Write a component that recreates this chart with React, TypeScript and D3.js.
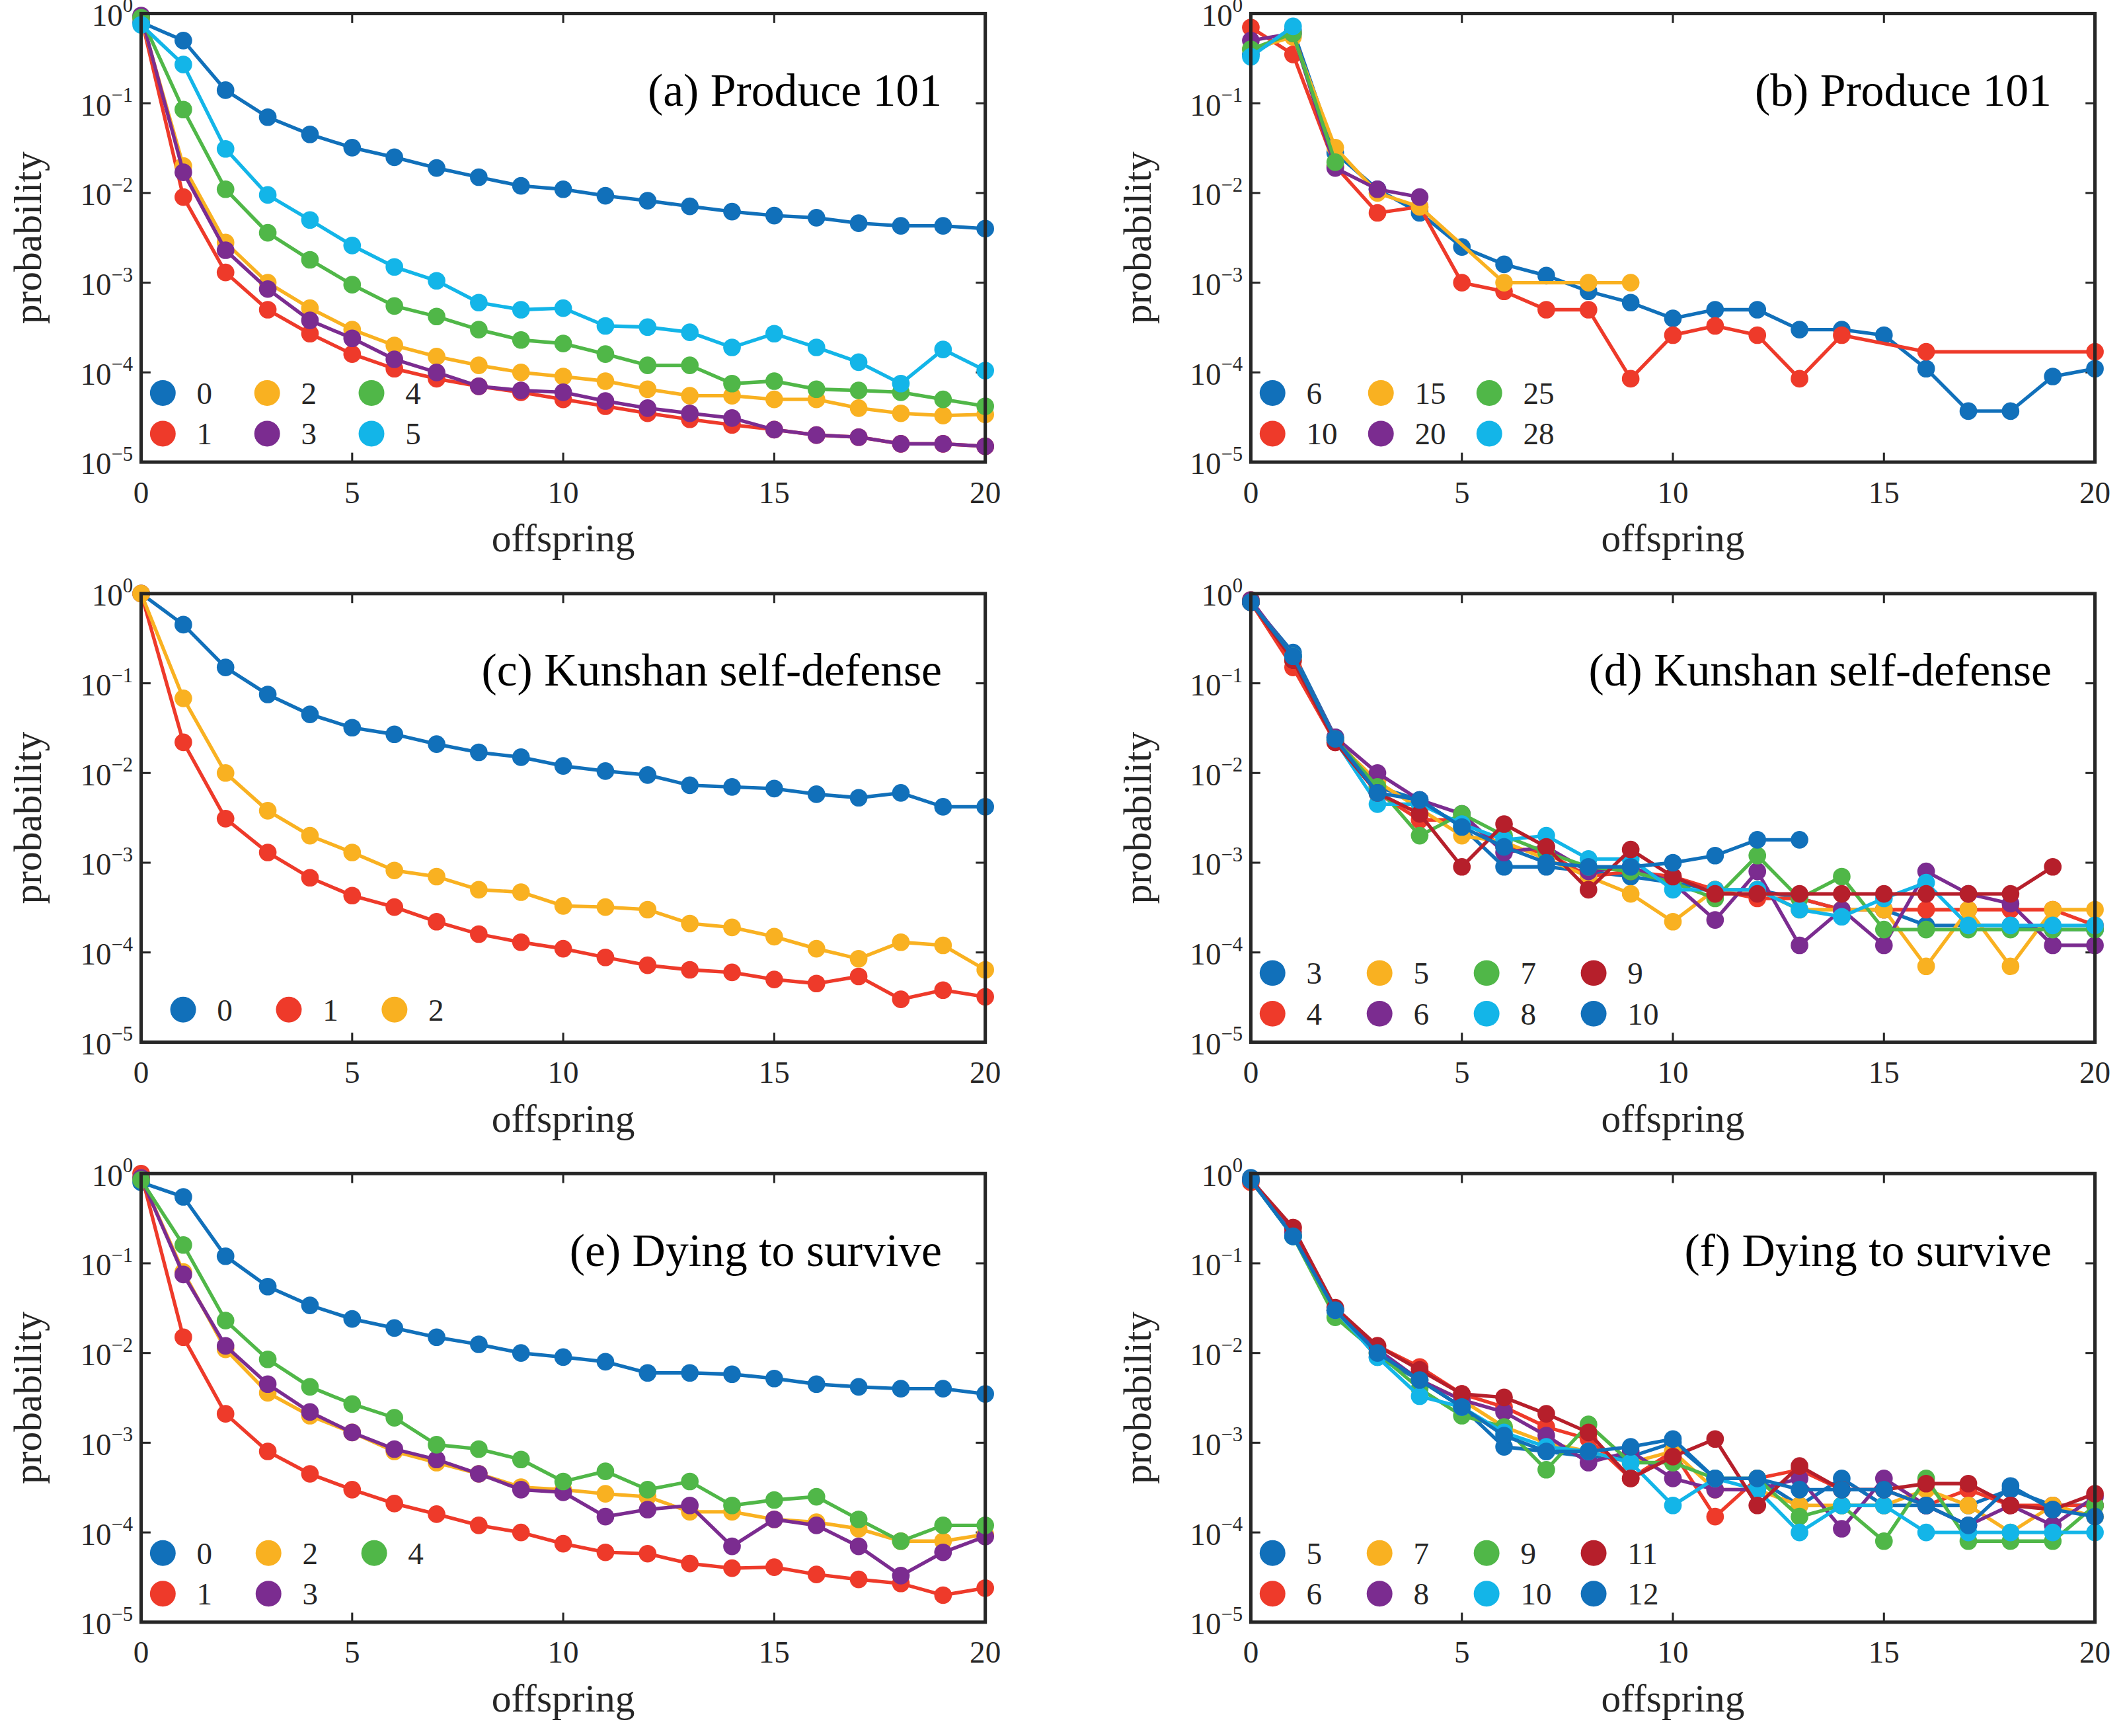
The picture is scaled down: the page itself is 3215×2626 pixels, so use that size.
import * as d3 from "d3";
import React from "react";

// colours (MATLAB-ish palette as seen in the figure)
const C = {
  blue: "#1170BA",
  red: "#EE3A2A",
  orange: "#F9B121",
  purple: "#7B2C90",
  green: "#50B748",
  cyan: "#13B5E8",
  dark: "#B61F2B",
};

const xs = d3.range(0, 21);

// (a) Produce 101, in-degree classes 0..5
const aS0 = [0.8, 0.5, 0.14, 0.07, 0.045, 0.032, 0.025, 0.019, 0.015, 0.012, 0.011, 0.0093, 0.0082, 0.0071, 0.0062, 0.0056, 0.0053, 0.0046, 0.0043, 0.0043, 0.004];
const aS1 = [0.9, 0.009, 0.0013, 0.0005, 0.00027, 0.00016, 0.00011, 0.000085, 0.00007, 0.00006, 0.00005, 0.000042, 0.000035, 0.00003, 0.000026, 0.000023, 0.00002, 0.000019, 0.000016, 0.000016, 0.000015];
const aS2 = [0.9, 0.02, 0.0028, 0.001, 0.00052, 0.0003, 0.0002, 0.00015, 0.00012, 0.0001, 0.00009, 0.00008, 0.000065, 0.000055, 0.000055, 0.00005, 0.00005, 0.00004, 0.000035, 0.000033, 0.000034];
const aS3 = [0.95, 0.017, 0.0023, 0.00085, 0.00038, 0.00024, 0.00014, 0.0001, 0.00007, 0.000063, 0.00006, 0.000048, 0.00004, 0.000035, 0.000031, 0.000023, 0.00002, 0.000019, 0.000016, 0.000016, 0.000015];
const aS4 = [0.9, 0.085, 0.011, 0.0036, 0.0018, 0.00095, 0.00055, 0.00042, 0.0003, 0.00023, 0.00021, 0.00016, 0.00012, 0.00012, 0.000075, 0.00008, 0.000065, 0.000063, 0.00006, 0.00005, 0.000042];
const aS5 = [0.75, 0.27, 0.031, 0.0095, 0.005, 0.0026, 0.0015, 0.00105, 0.0006, 0.0005, 0.00052, 0.00033, 0.00032, 0.00028, 0.00019, 0.00027, 0.00019, 0.00013, 0.000075, 0.00018, 0.000105];

// (b) Produce 101, larger classes (sparse)
const bS6 = [0.35, 0.65, 0.028, 0.011, 0.006, 0.0025, 0.0016, 0.0012, 0.0008, 0.0006, 0.0004, 0.0005, 0.0005, 0.0003, 0.0003, 0.00026, 0.00011, 0.000037, 0.000037, 0.00009, 0.00011];
const bS10x = [0, 1, 2, 3, 4, 5, 6, 7, 8, 9, 10, 11, 12, 13, 14, 16, 20];
const bS10 = [0.7, 0.35, 0.02, 0.006, 0.007, 0.001, 0.0008, 0.0005, 0.0005, 0.000085, 0.00026, 0.00033, 0.00026, 0.000085, 0.00026, 0.00017, 0.00017];
const bS15x = [0, 1, 2, 3, 4, 6, 8, 9];
const bS15 = [0.4, 0.55, 0.032, 0.01, 0.007, 0.001, 0.001, 0.001];
const bS20 = [0.5, 0.6, 0.019, 0.011, 0.009];
const bS25 = [0.4, 0.6, 0.022];
const bS28 = [0.33, 0.72];

// (c) Kunshan self-defense
const cS0 = [1.0, 0.45, 0.15, 0.075, 0.045, 0.032, 0.027, 0.021, 0.017, 0.015, 0.012, 0.0105, 0.0095, 0.0073, 0.007, 0.0067, 0.0058, 0.0053, 0.006, 0.0042, 0.0042];
const cS1 = [1.0, 0.022, 0.0031, 0.0013, 0.00068, 0.00043, 0.00032, 0.00022, 0.00016, 0.00013, 0.00011, 0.000088, 0.000072, 0.000064, 0.00006, 0.00005, 0.000045, 0.000054, 0.00003, 0.000038, 0.000032];
const cS2 = [1.0, 0.068, 0.01, 0.0038, 0.002, 0.0013, 0.00082, 0.0007, 0.0005, 0.00047, 0.00033, 0.00032, 0.0003, 0.00021, 0.00019, 0.00015, 0.00011, 0.000085, 0.00013, 0.00012, 0.000064];

// (d) Kunshan self-defense, classes 3..10
const dS3 = [0.8, 0.22, 0.025, 0.007, 0.005, 0.0025, 0.0009, 0.0009, 0.0008, 0.0007, 0.0006, 0.0005, 0.0005, 0.0004, 0.0003, 0.0003, 0.0002, 0.0002, 0.0002, 0.00018, 0.00018];
const dS4 = [0.8, 0.15, 0.022, 0.006, 0.003, 0.003, 0.0015, 0.0013, 0.0007, 0.0008, 0.0007, 0.0005, 0.0004, 0.0004, 0.0003, 0.0003, 0.0003, 0.0003, 0.0003, 0.0003, 0.0002];
const dS5 = [0.85, 0.18, 0.023, 0.008, 0.004, 0.002, 0.0017, 0.0011, 0.0007, 0.00045, 0.00022, 0.0005, 0.0005, 0.0003, 0.0003, 0.0003, 0.00007, 0.0003, 0.00007, 0.0003, 0.0003];
const dS6 = [0.85, 0.2, 0.025, 0.01, 0.005, 0.0035, 0.0013, 0.0015, 0.0008, 0.0009, 0.0006, 0.00023, 0.0008, 0.00012, 0.0003, 0.00012, 0.0008, 0.00045, 0.00035, 0.00012, 0.00012];
const dS7 = [0.8, 0.2, 0.024, 0.007, 0.002, 0.0035, 0.002, 0.0013, 0.0009, 0.0008, 0.0006, 0.0004, 0.0012, 0.0004, 0.0007, 0.00018, 0.00018, 0.00018, 0.00018, 0.00018, 0.00018];
const dS8 = [0.8, 0.2, 0.023, 0.0045, 0.0045, 0.0027, 0.0018, 0.002, 0.0011, 0.0011, 0.0005, 0.0005, 0.0005, 0.0003, 0.00025, 0.0004, 0.0006, 0.0002, 0.0002, 0.0002, 0.0002];
const dS9 = [0.8, 0.18, 0.022, 0.006, 0.0035, 0.0009, 0.0027, 0.0015, 0.0005, 0.0014, 0.0007, 0.00045, 0.00045, 0.00045, 0.00045, 0.00045, 0.00045, 0.00045, 0.00045, 0.0009];
const dS10 = [0.8, 0.2, 0.024, 0.006, 0.005, 0.0025, 0.0015, 0.001, 0.0009, 0.0009, 0.001, 0.0012, 0.0018, 0.0018];

// (e) Dying to survive
const eS0 = [0.8, 0.55, 0.12, 0.055, 0.034, 0.024, 0.019, 0.015, 0.0125, 0.01, 0.009, 0.008, 0.006, 0.006, 0.0058, 0.0052, 0.0045, 0.0042, 0.004, 0.004, 0.0035];
const eS1 = [1.0, 0.015, 0.0021, 0.0008, 0.00045, 0.0003, 0.00021, 0.00016, 0.00012, 0.0001, 0.000075, 0.00006, 0.000058, 0.000045, 0.00004, 0.000041, 0.000034, 0.00003, 0.000027, 0.00002, 0.000024];
const eS2 = [0.9, 0.08, 0.011, 0.0036, 0.002, 0.0013, 0.0008, 0.0006, 0.00045, 0.00032, 0.0003, 0.00027, 0.00025, 0.00017, 0.00017, 0.00014, 0.00013, 0.00011, 0.00008, 0.00008, 0.000095];
const eS3 = [0.9, 0.075, 0.012, 0.0045, 0.0022, 0.0013, 0.00085, 0.00065, 0.00045, 0.0003, 0.00028, 0.00015, 0.00018, 0.0002, 0.00007, 0.00014, 0.00012, 0.00007, 0.000033, 0.00006, 0.00009];
const eS4 = [0.85, 0.16, 0.023, 0.0085, 0.0042, 0.0027, 0.0019, 0.00095, 0.00085, 0.00065, 0.00037, 0.00048, 0.0003, 0.00037, 0.0002, 0.00023, 0.00025, 0.00014, 0.00008, 0.00012, 0.00012];

// (f) Dying to survive, classes 5..12
const fS5 = [0.9, 0.2, 0.03, 0.009, 0.005, 0.0025, 0.0009, 0.0008, 0.0007, 0.0007, 0.001, 0.0004, 0.0004, 0.0002, 0.0004, 0.0002, 0.0002, 0.0002, 0.0003, 0.0002, 0.0002];
const fS6 = [0.8, 0.25, 0.03, 0.012, 0.007, 0.0035, 0.0025, 0.0015, 0.0011, 0.0004, 0.0008, 0.00015, 0.0004, 0.0005, 0.0003, 0.0003, 0.0002, 0.0003, 0.0002, 0.0002, 0.0002];
const fS7 = [0.85, 0.22, 0.03, 0.01, 0.005, 0.003, 0.0015, 0.001, 0.0008, 0.0006, 0.0008, 0.0003, 0.0003, 0.0002, 0.0002, 0.0002, 0.0003, 0.0002, 0.0001, 0.0002, 0.00015];
const fS8 = [0.85, 0.22, 0.03, 0.011, 0.005, 0.003, 0.0022, 0.0012, 0.0006, 0.0008, 0.0004, 0.0003, 0.0003, 0.0004, 0.00011, 0.0004, 0.0002, 0.00012, 0.0002, 0.00012, 0.00025];
const fS9 = [0.85, 0.2, 0.025, 0.01, 0.004, 0.002, 0.0015, 0.0005, 0.0016, 0.0006, 0.0006, 0.0004, 0.0004, 0.00015, 0.0002, 0.00008, 0.0004, 0.00008, 0.00008, 0.00008, 0.0002];
const fS10 = [0.85, 0.2, 0.03, 0.009, 0.0033, 0.0025, 0.0013, 0.0009, 0.0008, 0.0006, 0.0002, 0.0004, 0.0003, 0.0001, 0.0002, 0.0002, 0.0001, 0.0001, 0.0001, 0.0001, 0.0001];
const fS11 = [0.85, 0.25, 0.032, 0.012, 0.0065, 0.0035, 0.0032, 0.0021, 0.0013, 0.0004, 0.0007, 0.0011, 0.0002, 0.00055, 0.0003, 0.0003, 0.00035, 0.00035, 0.0002, 0.00018, 0.00027];
const fS12 = [0.85, 0.2, 0.03, 0.01, 0.005, 0.0025, 0.0012, 0.0008, 0.0008, 0.0009, 0.0011, 0.0004, 0.0004, 0.0003, 0.0003, 0.0003, 0.0002, 0.00012, 0.00033, 0.00018, 0.00015];

type Series = { label: string; color: string; x?: number[]; y: number[] };
type Panel = {
  title: string;
  col: number;
  row: number;
  series: Series[];
  legendRows: number;
  legendDx: number;
};

const pa: Series[] = [
  { label: "0", color: C.blue, y: aS0 },
  { label: "1", color: C.red, y: aS1 },
  { label: "2", color: C.orange, y: aS2 },
  { label: "3", color: C.purple, y: aS3 },
  { label: "4", color: C.green, y: aS4 },
  { label: "5", color: C.cyan, y: aS5 },
];
const pb: Series[] = [
  { label: "6", color: C.blue, y: bS6 },
  { label: "10", color: C.red, x: bS10x, y: bS10 },
  { label: "15", color: C.orange, x: bS15x, y: bS15 },
  { label: "20", color: C.purple, y: bS20 },
  { label: "25", color: C.green, y: bS25 },
  { label: "28", color: C.cyan, y: bS28 },
];
const pc: Series[] = [
  { label: "0", color: C.blue, y: cS0 },
  { label: "1", color: C.red, y: cS1 },
  { label: "2", color: C.orange, y: cS2 },
];
const pd: Series[] = [
  { label: "3", color: C.blue, y: dS3 },
  { label: "4", color: C.red, y: dS4 },
  { label: "5", color: C.orange, y: dS5 },
  { label: "6", color: C.purple, y: dS6 },
  { label: "7", color: C.green, y: dS7 },
  { label: "8", color: C.cyan, y: dS8 },
  { label: "9", color: C.dark, y: dS9 },
  { label: "10", color: C.blue, y: dS10 },
];
const pe: Series[] = [
  { label: "0", color: C.blue, y: eS0 },
  { label: "1", color: C.red, y: eS1 },
  { label: "2", color: C.orange, y: eS2 },
  { label: "3", color: C.purple, y: eS3 },
  { label: "4", color: C.green, y: eS4 },
];
const pf: Series[] = [
  { label: "5", color: C.blue, y: fS5 },
  { label: "6", color: C.red, y: fS6 },
  { label: "7", color: C.orange, y: fS7 },
  { label: "8", color: C.purple, y: fS8 },
  { label: "9", color: C.green, y: fS9 },
  { label: "10", color: C.cyan, y: fS10 },
  { label: "11", color: C.dark, y: fS11 },
  { label: "12", color: C.blue, y: fS12 },
];

const panels: Panel[] = [
  { title: "(a) Produce 101", col: 0, row: 0, series: pa, legendRows: 2, legendDx: 77 },
  { title: "(b) Produce 101", col: 1, row: 0, series: pb, legendRows: 2, legendDx: 80 },
  { title: "(c) Kunshan self-defense", col: 0, row: 1, series: pc, legendRows: 1, legendDx: 78 },
  { title: "(d) Kunshan self-defense", col: 1, row: 1, series: pd, legendRows: 2, legendDx: 79 },
  { title: "(e) Dying to survive", col: 0, row: 2, series: pe, legendRows: 2, legendDx: 78 },
  { title: "(f) Dying to survive", col: 1, row: 2, series: pf, legendRows: 2, legendDx: 79 },
];

const colX = [104, 923];
const rowY = [10, 438, 866];
const PW = 623;
const PH = 331;
const FONT = "'Liberation Serif', 'Times New Roman', serif";
const AX = "#262626";

const yTicks = [0, -1, -2, -3, -4, -5];
const xTicks = [0, 5, 10, 15, 20];

const PanelView: React.FC<{ p: Panel }> = ({ p }) => {
  const x0 = colX[p.col];
  const y0 = rowY[p.row];
  const x = d3.scaleLinear().domain([0, 20]).range([0, PW]);
  const y = d3.scaleLog().domain([1e-5, 1]).range([PH, 0]);
  const line = d3
    .line<[number, number]>()
    .x((d) => x(d[0]))
    .y((d) => y(d[1]));
  const pts = (s: Series) => s.y.map((v, i) => [s.x ? s.x[i] : xs[i], v] as [number, number]);
  const legendRow = p.legendRows === 1 ? 307 : 280;
  return (
    <g transform={`translate(${x0},${y0})`}>
      {xTicks.map((t) => (
        <g key={"x" + t}>
          <line x1={x(t)} x2={x(t)} y1={PH} y2={PH - 7} stroke={AX} strokeWidth={1.5} />
          <line x1={x(t)} x2={x(t)} y1={0} y2={7} stroke={AX} strokeWidth={1.5} />
          <text x={x(t)} y={PH + 30} textAnchor="middle" fontSize={23} fontFamily={FONT} fill={AX}>
            {t}
          </text>
        </g>
      ))}
      {yTicks.map((e) => (
        <g key={"y" + e}>
          <line x1={0} x2={7} y1={y(Math.pow(10, e))} y2={y(Math.pow(10, e))} stroke={AX} strokeWidth={1.5} />
          <line x1={PW} x2={PW - 7} y1={y(Math.pow(10, e))} y2={y(Math.pow(10, e))} stroke={AX} strokeWidth={1.5} />
          <text x={-6} y={y(Math.pow(10, e)) + 9} textAnchor="end" fontSize={23} fontFamily={FONT} fill={AX}>
            10
            <tspan dy={-10} fontSize={15}>
              {e === 0 ? "0" : "\u2212" + -e}
            </tspan>
          </text>
        </g>
      ))}
      {p.series.map((s, i) => (
        <g key={"s" + i}>
          <path d={line(pts(s)) || ""} fill="none" stroke={s.color} strokeWidth={2.6} />
          {pts(s).map((d, j) => (
            <circle key={j} cx={x(d[0])} cy={y(d[1])} r={6.5} fill={s.color} />
          ))}
        </g>
      ))}
      <rect x={0} y={0} width={PW} height={PH} fill="none" stroke={AX} strokeWidth={2.5} />
      <text x={PW - 32} y={68} textAnchor="end" fontSize={34} fontFamily={FONT} fill="#000">
        {p.title}
      </text>
      {p.series.map((s, i) => {
        const c = Math.floor(i / p.legendRows);
        const r = i % p.legendRows;
        const lx = 16 + c * p.legendDx + (p.legendRows === 1 ? 15 : 0);
        const ly = legendRow + r * 30;
        return (
          <g key={"l" + i}>
            <circle cx={lx} cy={ly} r={9.5} fill={s.color} />
            <text x={lx + 25} y={ly + 8} fontSize={23} fontFamily={FONT} fill={AX}>
              {s.label}
            </text>
          </g>
        );
      })}
      <text x={PW / 2} y={PH + 66} textAnchor="middle" fontSize={29} fontFamily={FONT} fill={AX}>
        offspring
      </text>
      <text
        transform={`translate(-74,${PH / 2}) rotate(-90)`}
        textAnchor="middle"
        fontSize={29}
        fontFamily={FONT}
        fill={AX}
      >
        probability
      </text>
    </g>
  );
};

const App: React.FC = () => (
  <svg
    width={3215}
    height={2626}
    viewBox="0 0 1568 1281"
    style={{ position: "absolute", left: 0, top: 0, background: "#fff" }}
  >
    {panels.map((p, i) => (
      <PanelView key={i} p={p} />
    ))}
  </svg>
);

export default App;
